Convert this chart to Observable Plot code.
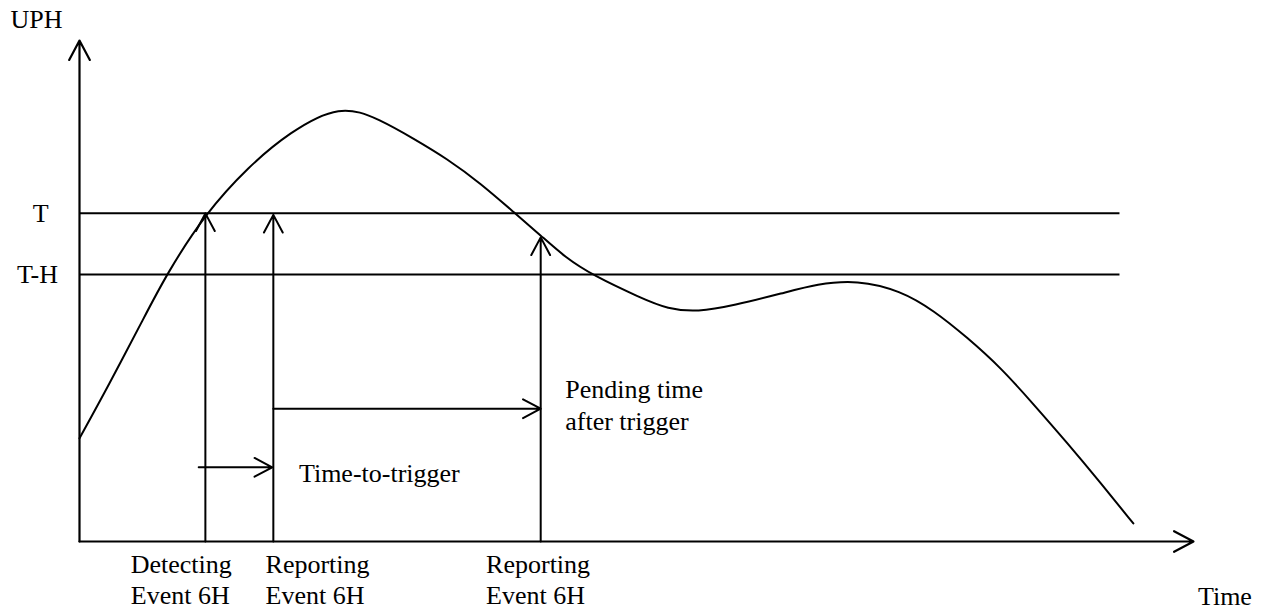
<!DOCTYPE html>
<html>
<head>
<meta charset="utf-8">
<script src="https://cdn.jsdelivr.net/npm/d3@7"></script>
<script src="https://cdn.jsdelivr.net/npm/@observablehq/plot@0.6"></script>
<style>
  html, body { margin: 0; padding: 0; background: #fff; }
</style>
</head>
<body>
<div id="chart"></div>
<script>
// UPH curve over time (arbitrary units: time 0–100, UPH 0–100)
const curveTime = [0, 2.6, 5.75, 7.8, 11.3, 15.2, 18.8, 23.4, 27.0, 30.0, 33.0, 36.0, 39.1, 41.4, 43.6, 46.1, 50.4, 52.8, 55.5, 58.7, 63.2, 66.2, 69.8, 73.7, 76.7, 79.7, 82.7, 85.6, 88.7, 91.7, 94.6];
const curveUPH  = [20.6, 31.1, 44.5, 53.3, 65.5, 74.9, 81.6, 87.4, 84.2, 80.4, 76.4, 71.5, 65.5, 61.1, 56.7, 53.1, 48.6, 46.4, 45.8, 47.1, 49.6, 51.4, 52.2, 50.1, 46.1, 40.7, 34.7, 27.5, 19.6, 11.6, 3.6];

// Thresholds
const levelNames  = ["T", "T-H"];
const levelValues = [65.5, 53.3];
const levelLabelTime = [-4.2, -5.6];
const levelEnd = 93.4;

// Events (vertical arrows)
const eventTime   = [11.3, 17.4, 41.4];
const eventTip    = [65.5, 65.2, 60.7];
const eventLabels = ["Detecting\nEvent 6H", "Reporting\nEvent 6H", "Reporting\nEvent 6H"];
const eventLabelTime = [4.6, 16.7, 36.5];

// Intervals (horizontal arrows)
const intervalStart  = [10.7, 17.4];
const intervalEnd    = [17.3, 41.4];
const intervalLevel  = [14.8, 26.5];
const intervalLabels = ["Time-to-trigger", "Pending time\nafter trigger"];
const intervalLabelTime = [19.7, 43.6];
const intervalLabelUPH  = [16.2, 33.0];

// Axis titles
const axisNames = ["UPH", "Time"];
const axisLabelTime = [-6.2, 100.4];
const axisLabelUPH  = [106.1, -9.0];

const curve = curveTime.map((t, i) => ({t, u: curveUPH[i]}));
const levels = levelNames.map((name, i) => ({name, value: levelValues[i], lx: levelLabelTime[i]}));
const events = eventTime.map((t, i) => ({t, tip: eventTip[i], label: eventLabels[i], lx: eventLabelTime[i]}));
const intervals = intervalStart.map((s, i) => ({s, e: intervalEnd[i], u: intervalLevel[i], label: intervalLabels[i], lx: intervalLabelTime[i], ly: intervalLabelUPH[i]}));
const axes = axisNames.map((name, i) => ({name, x: axisLabelTime[i], y: axisLabelUPH[i]}));

const arrowOpts = {stroke: "black", strokeWidth: 2, headLength: 15, headAngle: 56};

const chart = Plot.plot({
  width: 1261,
  height: 611,
  marginLeft: 79,
  marginRight: 68,
  marginTop: 40,
  marginBottom: 70,
  x: {domain: [0, 100], axis: null},
  y: {domain: [0, 100], axis: null},
  style: {fontFamily: "'Liberation Serif', 'Times New Roman', serif", fontSize: "26px", background: "white", color: "black"},
  marks: [
    // axes
    Plot.arrow([{x1: 0, y1: 0, x2: 100, y2: 0}], {x1: "x1", y1: "y1", x2: "x2", y2: "y2", ...arrowOpts, strokeWidth: 2.2}),
    Plot.arrow([{x1: 0, y1: 0, x2: 0, y2: 100}], {x1: "x1", y1: "y1", x2: "x2", y2: "y2", ...arrowOpts, strokeWidth: 2.2}),
    // threshold lines
    Plot.ruleY(levels, {y: "value", x1: 0, x2: levelEnd, stroke: "black", strokeWidth: 2}),
    Plot.text(levels, {x: "lx", y: "value", text: "name", textAnchor: "start", lineAnchor: "middle", fill: "black"}),
    // UPH curve
    Plot.line(curve, {x: "t", y: "u", curve: "basis", stroke: "black", strokeWidth: 2}),
    // event arrows
    Plot.arrow(events, {x1: "t", y1: 0, x2: "t", y2: "tip", ...arrowOpts}),
    Plot.text(events, {x: "lx", y: 0, dy: 10, text: "label", textAnchor: "start", lineAnchor: "top", lineHeight: 1.17, fill: "black"}),
    // interval arrows
    Plot.arrow(intervals, {x1: "s", y1: "u", x2: "e", y2: "u", ...arrowOpts}),
    Plot.text(intervals, {x: "lx", y: "ly", text: "label", textAnchor: "start", lineAnchor: "top", lineHeight: 1.2, fill: "black"}),
    // axis titles
    Plot.text(axes, {x: "x", y: "y", text: "name", textAnchor: "start", lineAnchor: "top", fill: "black"})
  ]
});
document.getElementById("chart").appendChild(chart);
</script>
</body>
</html>
